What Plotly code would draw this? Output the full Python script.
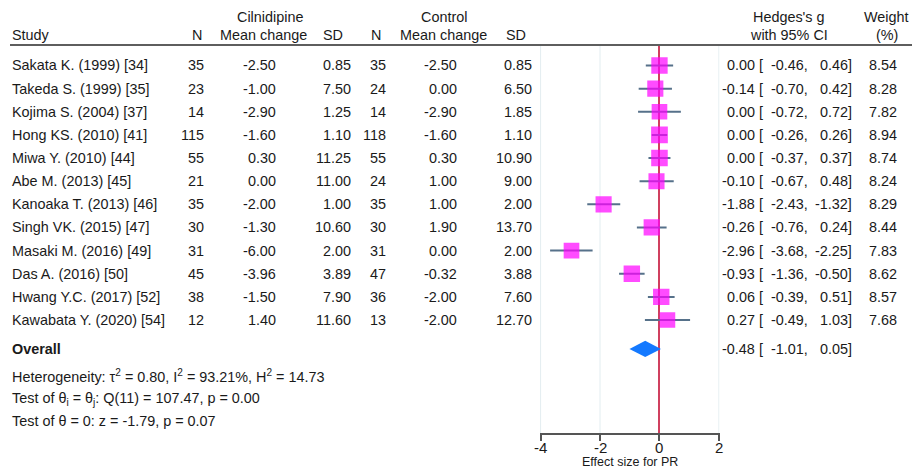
import plotly.graph_objects as go

# ---------------- data ----------------
studies = ["Sakata K. (1999) [34]", "Takeda S. (1999) [35]", "Kojima S. (2004) [37]",
           "Hong KS. (2010) [41]", "Miwa Y. (2010) [44]", "Abe M. (2013) [45]",
           "Kanoaka T. (2013) [46]", "Singh VK. (2015) [47]", "Masaki M. (2016) [49]",
           "Das A. (2016) [50]", "Hwang Y.C. (2017) [52]", "Kawabata Y. (2020) [54]"]
n_cil = [35, 23, 14, 115, 55, 21, 35, 30, 31, 45, 38, 12]
mean_cil = [-2.50, -1.00, -2.90, -1.60, 0.30, 0.00, -2.00, -1.30, -6.00, -3.96, -1.50, 1.40]
sd_cil = [0.85, 7.50, 1.25, 1.10, 11.25, 11.00, 1.00, 10.60, 2.00, 3.89, 7.90, 11.60]
n_ctl = [35, 24, 14, 118, 55, 24, 35, 30, 31, 47, 36, 13]
mean_ctl = [-2.50, 0.00, -2.90, -1.60, 0.30, 1.00, 1.00, 1.90, 0.00, -0.32, -2.00, -2.00]
sd_ctl = [0.85, 6.50, 1.85, 1.10, 10.90, 9.00, 2.00, 13.70, 2.00, 3.88, 7.60, 12.70]
hedges_g = [0.00, -0.14, 0.00, 0.00, 0.00, -0.10, -1.88, -0.26, -2.96, -0.93, 0.06, 0.27]
ci_low = [-0.46, -0.70, -0.72, -0.26, -0.37, -0.67, -2.43, -0.76, -3.68, -1.36, -0.39, -0.49]
ci_high = [0.46, 0.42, 0.72, 0.26, 0.37, 0.48, -1.32, 0.24, -2.25, -0.50, 0.51, 1.03]
weights = [8.54, 8.28, 7.82, 8.94, 8.74, 8.24, 8.29, 8.44, 7.83, 8.62, 8.57, 7.68]

overall_g = -0.48
overall_low = -1.01
overall_high = 0.05

x_ticks = [-4, -2, 0, 2]
x_title = "Effect size for PR"

# ---------------- layout helpers ----------------
W, H = 918, 473
FONT = "Liberation Sans, Arial, sans-serif"
TXT = "#1a1a1a"
FS = 14.4

def px(x):
    return x / W

def py(y):
    return 1 - y / H

row_y = list(range(len(studies)))
overall_y = 12.25

# y axis mapping: pixel = 65.5 + 23.14 * row
top_px, bot_px = 45, 433
y0 = (top_px - 65.5) / 23.14
y1 = (bot_px - 65.5) / 23.14

fig = go.Figure()

# study markers with CI
fig.add_trace(go.Scatter(
    x=hedges_g, y=row_y, mode="markers",
    marker=dict(symbol="square", color="#FF00FF",
                size=[5.6 * (w ** 0.5) for w in weights], line=dict(width=0)),
    error_x=dict(type="data", symmetric=False,
                 array=[h - g for h, g in zip(ci_high, hedges_g)],
                 arrayminus=[g - l for g, l in zip(hedges_g, ci_low)],
                 width=0, thickness=2, color="#56718a"),
    hoverinfo="skip", showlegend=False,
))

# overall diamond
dh = 0.35
fig.add_trace(go.Scatter(
    x=[overall_low, overall_g, overall_high, overall_g, overall_low],
    y=[overall_y, overall_y - dh, overall_y, overall_y + dh, overall_y],
    mode="lines", fill="toself", fillcolor="#1479FF",
    line=dict(width=0, color="#1479FF"),
    hoverinfo="skip", showlegend=False,
))

ann = []

def add(text, x, y, anchor="left", yref="y", size=FS, bold=False, xref="paper"):
    if bold:
        text = "<b>" + text + "</b>"
    ann.append(dict(text=text, x=px(x) if xref == "paper" else x, y=y,
                    xref=xref, yref=yref,
                    xanchor=anchor, yanchor="middle", align=anchor, showarrow=False,
                    borderpad=0, borderwidth=0,
                    font=dict(family=FONT, size=size, color=TXT)))

# headers
add("Cilnidipine", 270, py(17), "center", "paper")
add("Control", 444, py(17), "center", "paper")
add("Hedges's g", 789, py(17), "center", "paper")
add("Weight", 886, py(17), "center", "paper")
add("Study", 12, py(35), "left", "paper")
add("N", 197, py(35), "center", "paper")
add("Mean change", 263, py(35), "center", "paper")
add("SD", 333, py(35), "center", "paper")
add("N", 376, py(35), "center", "paper")
add("Mean change", 443, py(35), "center", "paper")
add("SD", 516, py(35), "center", "paper")
add("with 95% CI", 789, py(35), "center", "paper")
add("(%)", 887, py(35), "center", "paper")

def eff(y, g, l, h):
    add(f"{g:.2f}", 755, y, "right")
    add("[", 759, y, "left")
    add(f"{l:.2f},", 808, y, "right")
    add(f"{h:.2f}]", 852, y, "right")

for i, s in enumerate(studies):
    y = row_y[i]
    add(s, 12, y)
    add(str(n_cil[i]), 204, y, "right")
    add(f"{mean_cil[i]:.2f}", 276, y, "right")
    add(f"{sd_cil[i]:.2f}", 351, y, "right")
    add(str(n_ctl[i]), 386, y, "right")
    add(f"{mean_ctl[i]:.2f}", 457, y, "right")
    add(f"{sd_ctl[i]:.2f}", 532, y, "right")
    eff(y, hedges_g[i], ci_low[i], ci_high[i])
    add(f"{weights[i]:.2f}", 897, y, "right")

add("Overall", 12, overall_y, bold=True)
eff(overall_y, overall_g, overall_low, overall_high)

add("Heterogeneity: τ<sup>2</sup> = 0.80, I<sup>2</sup> = 93.21%, H<sup>2</sup> = 14.73", 12, py(376), "left", "paper")
add("Test of θ<sub>i</sub> = θ<sub>j</sub>: Q(11) = 107.47, p = 0.00", 12, py(399), "left", "paper")
add("Test of θ = 0: z = -1.79, p = 0.07", 12, py(421), "left", "paper")

# tick labels and axis title
for t in x_ticks:
    add(str(t), t, py(447), "center", "paper", size=15, xref="x")
add(x_title, 630, py(462), "center", "paper", size=12.5)

shapes = [dict(type="line", xref="paper", yref="paper", x0=px(10), x1=px(912),
               y0=py(45), y1=py(45), line=dict(color="#5e5e5e", width=2.2))]
# vertical grid lines at tick positions
for t in x_ticks:
    if t != 0:
        shapes.append(dict(type="line", xref="x", yref="paper", x0=t, x1=t,
                           y0=py(bot_px), y1=py(top_px), layer="below",
                           line=dict(color="#e3edf0", width=1)))

fig.update_layout(
    width=W, height=H, margin=dict(l=0, r=0, t=0, b=0),
    paper_bgcolor="white", plot_bgcolor="white",
    annotations=ann, shapes=shapes,
    xaxis=dict(domain=[px(540), px(719.5)], range=[-4.02, 2.02],
               tickvals=x_ticks, showticklabels=False,
               showgrid=False,
               zeroline=True, zerolinecolor="#D0405F", zerolinewidth=2,
               showline=True, linecolor="#555555", linewidth=1.5,
               ticks="outside", ticklen=6, tickwidth=1.5, tickcolor="#555555",
               fixedrange=True),
    yaxis=dict(domain=[py(bot_px), py(top_px)], range=[y1, y0],
               showgrid=False, zeroline=False, showline=False,
               showticklabels=False, ticks="", fixedrange=True),
    font=dict(family=FONT, color=TXT),
)

fig.write_html("out.html")
